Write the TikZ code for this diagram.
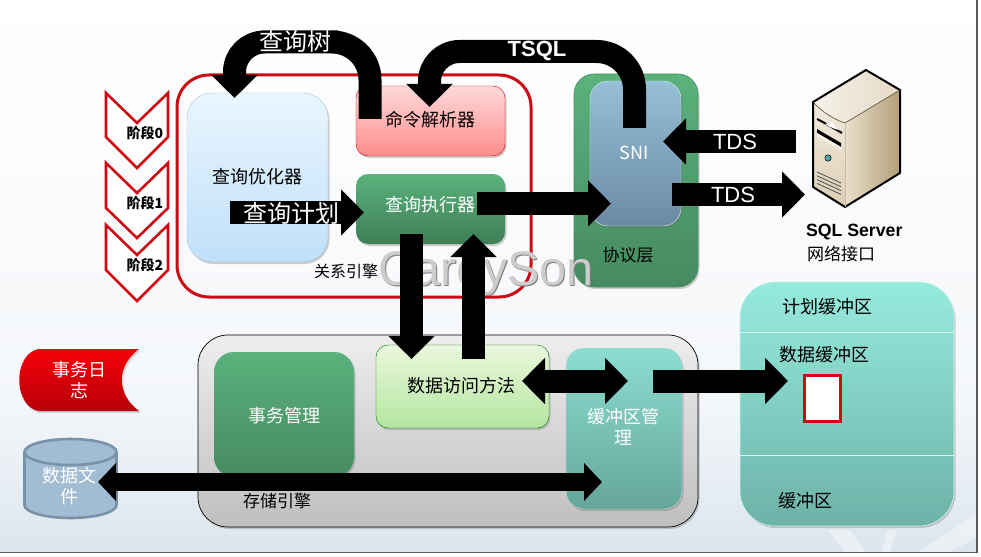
\documentclass[tikz,border=0pt]{standalone}
\usepackage{fontspec}
\setmainfont{Noto Sans CJK SC}
\newfontfamily\latinf{Liberation Sans}
\usetikzlibrary{arrows.meta,shadows,calc}
\newcommand{\fs}[1]{\fontsize{#1}{#1}\selectfont}
\definecolor{stagered}{HTML}{CE0A14}
\definecolor{bgmid}{HTML}{F4F7FA}
\definecolor{bgbot}{HTML}{DCE5EE}
\tikzset{
  px/.style={x=1pt,y=-1pt},
  rbox/.style={rounded corners=#1,inner sep=0pt,outer sep=0pt,align=center,font=\fs{18},drop shadow={shadow xshift=1.5pt,shadow yshift=-2pt,opacity=.3,fill=black!60}},
  lbl/.style={inner sep=0pt,outer sep=0pt,align=center,font=\fs{18}},
  wlbl/.style={lbl,text=white},
  bigarrow/.style={line width=23pt,draw=black,-{Triangle[width=45pt,length=23pt]}},
  twoarrow/.style={line width=23pt,draw=black,{Triangle[width=45pt,length=23pt]}-{Triangle[width=45pt,length=23pt]}},
  longarrow/.style={line width=18pt,draw=black,{Triangle[width=37pt,length=18pt]}-{Triangle[width=37pt,length=18pt]}},
  stage/.style={draw=stagered,line width=2.6pt,fill=white,miter limit=10},
}
\begin{document}
\begin{tikzpicture}[px]
\useasboundingbox (0,0) rectangle (981,556);
% page background
\fill[white] (0,0) rectangle (981,556);
\shade[top color=white,bottom color=bgmid] (0,0) rectangle (977,400);
\shade[top color=bgmid,bottom color=bgbot] (0,400) rectangle (977,552);
\fill[white,opacity=.4] (828,530) -- (850,530) -- (866,552) -- (845,552) -- cycle;
\fill[white,opacity=.4] (887,530) -- (897,530) -- (890,552) -- (882,552) -- cycle;
\fill[white,opacity=.4] (918,552) -- (977,514) -- (977,537) -- (950,552) -- cycle;
\draw[black!65,line width=1.6pt] (977,0) -- (977,552.5) -- (0,552.5);

% relational engine frame
\node[draw=stagered,line width=3pt,rounded corners=32pt,minimum width=354pt,minimum height=222pt,inner sep=0pt,outer sep=0pt] (engine) at (354,186) {};
\node[lbl,font=\fs{16}] (enginelbl) at (346,271) {关系引擎};

% stages
\draw[stage] (106,225) -- (137,255) -- (168,225) -- (168,270) -- (137,301) -- (106,270) -- cycle;
\draw[stage] (106,163) -- (137,193) -- (168,163) -- (168,208) -- (137,238) -- (106,208) -- cycle;
\draw[stage] (106,93) -- (137,123) -- (168,93) -- (168,137) -- (137,168) -- (106,137) -- cycle;
\node[lbl,font=\bfseries\fs{14}] (s0) at (145,133) {阶段0};
\node[lbl,font=\bfseries\fs{14}] (s1) at (145,203) {阶段1};
\node[lbl,font=\bfseries\fs{14}] (s2) at (145,265) {阶段2};

% boxes of the relational engine
\definecolor{ot}{HTML}{E9F6FE}\definecolor{ob}{HTML}{C0E0FA}\definecolor{ol}{HTML}{A8C4D8}
\node[rbox=25pt,draw=ol,top color=ot,bottom color=ob,minimum width=141pt,minimum height=169pt] (optimizer) at (257.5,177.5) {};
\node[lbl] (optlbl) at (257,177) {查询优化器};
\node[rbox=12pt,draw=red!80!black,top color=red!15!white,bottom color=red!45!white,minimum width=149pt,minimum height=70pt] (parser) at (430.5,121) {};
\node[lbl] (parserlbl) at (430,120) {命令解析器};
\definecolor{gt}{HTML}{5AB27C}\definecolor{gb}{HTML}{468A60}
\definecolor{gb2}{HTML}{3E7E56}
\node[rbox=12pt,top color=gt,bottom color=gb2,minimum width=149pt,minimum height=70pt] (executor) at (430.5,209) {};
\node[wlbl] (execlbl) at (430,205) {查询执行器};

% protocol layer
\node[rbox=20pt,draw=gt!80!black,line width=.6pt,top color=gt,bottom color=gb,minimum width=124pt,minimum height=213pt] (protocol) at (636,180.5) {};
\definecolor{st}{HTML}{96BFD8}\definecolor{sb}{HTML}{6A8AA2}
\node[rbox=18pt,draw=white!70!st,top color=st,bottom color=sb,minimum width=91pt,minimum height=145pt] (sni) at (635.5,153.5) {};
\node[wlbl,font=\fs{18}] (snilbl) at (634,153) {SNI};
\node[lbl,font=\fs{17}] (protolbl) at (628,255) {协议层};

% storage engine
\node[rbox=30pt,draw=black,line width=.7pt,top color=black!7,bottom color=black!25,minimum width=500pt,minimum height=192pt] (storage) at (448,431) {};
\node[lbl,font=\fs{17}] (storagelbl) at (277,501) {存储引擎};
\node[rbox=20pt,top color=gt,bottom color=gb,minimum width=140pt,minimum height=125pt] (txn) at (284,414.5) {};
\node[wlbl] (txnlbl) at (284,416) {事务管理};
\definecolor{at}{HTML}{EAF7DC}\definecolor{ab}{HTML}{B4E6A0}
\node[rbox=12pt,draw=green!45!black,top color=at,bottom color=ab,minimum width=173pt,minimum height=83pt] (access) at (462.5,386.5) {};
\node[lbl] (accesslbl) at (461,386) {数据访问方法};
\definecolor{mt}{HTML}{8CDDD0}\definecolor{mb}{HTML}{66A69C}
\node[rbox=18pt,draw=white!60!mb,top color=mt,bottom color=mb,minimum width=116pt,minimum height=161pt] (bufmgr) at (624,428.5) {};
\node[wlbl] (bufmgrlbl) at (623,427) {缓冲区管\\[3pt]理};

% buffer pool
\definecolor{pt}{HTML}{96EBDD}\definecolor{pb}{HTML}{6DB2A8}
\node[rbox=35pt,draw=white!50!pt,line width=.6pt,top color=pt,bottom color=pb,minimum width=214pt,minimum height=244pt] (pool) at (847,404) {};
\draw[white!60!pt,line width=.7pt] (pool.west |- 0,332) coordinate (p1a) -- (pool.east |- 0,332) coordinate (p1b);
\draw[white!60!pt,line width=.7pt] (pool.west |- 0,455) coordinate (p2a) -- (pool.east |- 0,455) coordinate (p2b);
\node[lbl] (planlbl) at (827,307) {计划缓冲区};
\node[lbl] (datalbl) at (824,355) {数据缓冲区};
\node[lbl] (poollbl) at (805,501) {缓冲区};
\node[draw=stagered,line width=3pt,fill=white,minimum width=36pt,minimum height=46pt,inner sep=0pt] (page) at (822,398) {};

% transaction log
\definecolor{lt}{HTML}{F40008}\definecolor{lb}{HTML}{B80008}
\path[top color=lt,bottom color=lb,drop shadow={shadow xshift=1.5pt,shadow yshift=-2pt,opacity=.3}] (38,349) -- (139,349) .. controls (116,366) and (116,394) .. (139,411) -- (38,411) .. controls (13,405) and (13,355) .. (38,349) -- cycle;
\node[wlbl] (loglbl) at (79,380) {事务日\\[3pt]志};

% data file
\definecolor{cf}{HTML}{A2BDD3}\definecolor{cl}{HTML}{7A92A8}
\draw[draw=cl,line width=2.6pt,fill=cf] (24.5,452) -- (24.5,505) arc[start angle=180,end angle=360,x radius=46pt,y radius=13pt] -- (116.5,452) arc[start angle=0,end angle=180,x radius=46pt,y radius=13pt] -- cycle;
\draw[draw=cl,line width=2.6pt] (24.5,452) arc[start angle=180,end angle=360,x radius=46pt,y radius=13pt];
\node[wlbl] (filelbl) at (69,486) {数据文\\[3pt]件};

% server icon
\begin{scope}[line join=round]
\definecolor{tan1}{HTML}{E9DFCB}\definecolor{tan2}{HTML}{B39F78}\definecolor{tan3}{HTML}{F2EBDC}
\shade[left color=tan1,right color=tan2] (845,123) -- (900,90) -- (900,173) -- (845,207) -- cycle;
\shade[top color=tan3,bottom color=tan1!75!tan2] (813,102) .. controls (822,112) and (835,120) .. (845,123) -- (845,207) -- (813,187) -- cycle;
\shade[left color=white!60!tan1,right color=tan1!90!tan2] (866,70) -- (900,90) -- (845,123) .. controls (835,120) and (822,112) .. (813,102) -- cycle;
\draw[black,line width=2pt] (866,70) -- (900,90) -- (900,173) -- (845,207) -- (813,187) -- (813,102) -- cycle;
\draw[black!55!tan2,line width=.6pt] (813,102) .. controls (822,112) and (835,120) .. (845,123) -- (900,90);
\draw[tan2!70!white,line width=.6pt] (845,123) -- (845,207);
\draw[black,line width=2pt] (817,119) .. controls (825,123) and (833,128) .. (842,133);
\fill[white] (825,124) -- (832,122) -- (838,130) -- (830,127) -- cycle;
\fill[black] (817,129) -- (841,143) -- (841,147) -- (817,133) -- cycle;
\fill[white!70!tan1] (817,133) -- (841,147) -- (841,150) -- (817,136) -- cycle;
\fill[teal!70!white,draw=black,line width=.5pt] (828,158) circle[radius=3.2pt];
\foreach \d in {0,1,2,3}{\draw[black!70,line width=.8pt] (817,172+\d*3.8) -- (841,183+\d*3.8);}
\end{scope}
\node[lbl,font=\latinf\bfseries\fs{17.7},anchor=west] (serverlbl) at (806,232) {SQL Server};
\node[lbl,font=\fs{17},anchor=west] (netlbl) at (807,254) {网络接口};

% watermark
\node[lbl,font=\latinf\fs{48.5},text=black!50] (wmshadow) at (487,274.5) {CareySon};
\node[lbl,font=\latinf\fs{48.5},text=black!20] (wm) at (486,273.5) {CareySon};

% arrow end points
\coordinate (treeA) at (370,119);
\coordinate (treeB) at (234.5,98);
\coordinate (tsqlA) at (634.5,128);
\coordinate (tsqlB) at (429.5,107);
\coordinate (planA) at (230,212.5);
\coordinate (planB) at (364,212.5);
\coordinate (execA) at (477,203.5);
\coordinate (execB) at (611,203.5);
\coordinate (tdsinA) at (796,141.5);
\coordinate (tdsinB) at (663,141.5);
\coordinate (tdsoutA) at (672,194.5);
\coordinate (tdsoutB) at (805,194.5);
\coordinate (downA) at (411.5,234);
\coordinate (downB) at (411.5,359);
\coordinate (upA) at (473.5,359);
\coordinate (upB) at (473.5,234);
\coordinate (dblA) at (522,381);
\coordinate (dblB) at (628,381);
\coordinate (outA) at (653,381);
\coordinate (outB) at (788,381);
\coordinate (longA) at (98,482);
\coordinate (longB) at (602,482);

% block arrows
\draw[bigarrow,rounded corners=38pt] (treeA) -- (370,42) -- (300,42) [rounded corners=30pt] -- (234.5,42) -- (treeB);
\draw[bigarrow,rounded corners=38pt] (tsqlA) -- (634.5,51.5) -- (530,51.5) [rounded corners=30pt] -- (429.5,51.5) -- (tsqlB);
\draw[bigarrow] (planA) -- (planB);
\draw[bigarrow] (execA) -- (execB);
\draw[bigarrow] (tdsinA) -- (tdsinB);
\draw[bigarrow] (tdsoutA) -- (tdsoutB);
\draw[bigarrow] (downA) -- (downB);
\draw[bigarrow] (upA) -- (upB);
\draw[twoarrow] (dblA) -- (dblB);
\draw[bigarrow] (outA) -- (outB);
\draw[longarrow] (longA) -- (longB);

% arrow labels
\node[wlbl,font=\fs{24}] (treelbl) at (295,41) {查询树};
\node[wlbl,font=\latinf\bfseries\fs{22}] (tsqllbl) at (537,51) {TSQL};
\node[wlbl,font=\fs{24}] (planlbl2) at (291,213) {查询计划};
\node[wlbl,font=\latinf\fs{22}] (tds1) at (735,141.5) {TDS};
\node[wlbl,font=\latinf\fs{22}] (tds2) at (733,194.5) {TDS};
\end{tikzpicture}
\end{document}
